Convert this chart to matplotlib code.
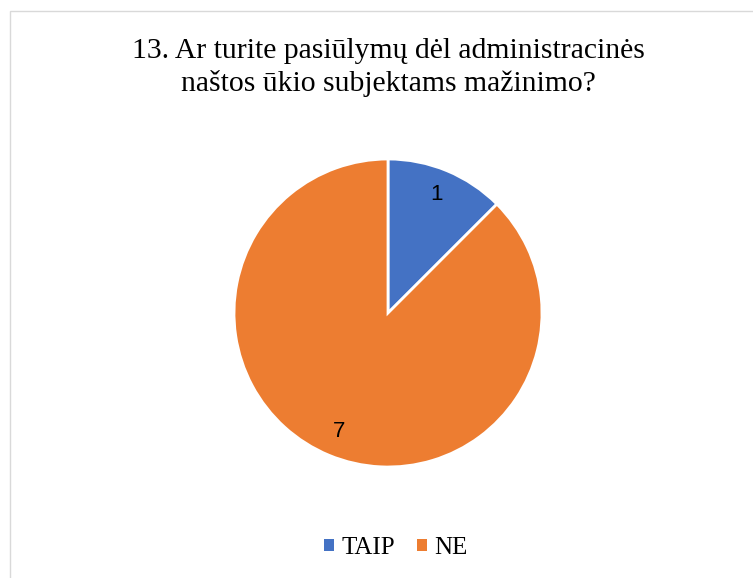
import matplotlib
matplotlib.use("Agg")
import matplotlib.pyplot as plt
from matplotlib.patches import Rectangle

categories = ["TAIP", "NE"]
values = [1, 7]
colors = ["#4472C4", "#ED7D31"]
title_lines = ["13. Ar turite pasiūlymų dėl administracinės", "naštos ūkio subjektams mažinimo?"]

W, H = 753, 578
fig = plt.figure(figsize=(W / 100, H / 100), dpi=100)
fig.patch.set_facecolor("white")

# chart border
fig.patches.append(Rectangle((10 / W, -0.1), 1.1, (H - 11) / H + 0.1, transform=fig.transFigure,
                             fill=False, edgecolor="#D9D9D9", linewidth=1.0))

cx, cy, r = 388, 313, 154
ax = fig.add_axes([(cx - r) / W, (H - cy - r) / H, 2 * r / W, 2 * r / H])
wedges, texts, autotexts = ax.pie(
    values, colors=colors, startangle=90, counterclock=False,
    autopct=lambda p: f"{round(p * sum(values) / 100):d}", pctdistance=0.83,
    wedgeprops=dict(edgecolor="white", linewidth=2), radius=1, frame=False)
for t in autotexts:
    t.set_fontfamily("Liberation Sans")
    t.set_fontsize(16)
    t.set_color("#000000")
ax.set_xlim(-1, 1)
ax.set_ylim(-1, 1)
ax.set_aspect("equal")
ax.axis("off")

fig.text(cx / W, 1 - 58 / H, title_lines[0], ha="center", va="baseline",
         fontfamily="Liberation Serif", fontsize=21.3, color="#000000")
fig.text(cx / W, 1 - 91 / H, title_lines[1], ha="center", va="baseline",
         fontfamily="Liberation Serif", fontsize=21.3, color="#000000")

leg = fig.legend(wedges, categories, loc="center", bbox_to_anchor=(396 / W, 1 - 548 / H),
                 ncol=2, frameon=False, handlelength=0.38, handleheight=0.38,
                 handletextpad=0.3, columnspacing=0.9,
                 prop=dict(family="Liberation Serif", size=18))
for h in leg.legend_handles:
    h.set_linewidth(0)

fig.savefig("out.png", dpi=100)
